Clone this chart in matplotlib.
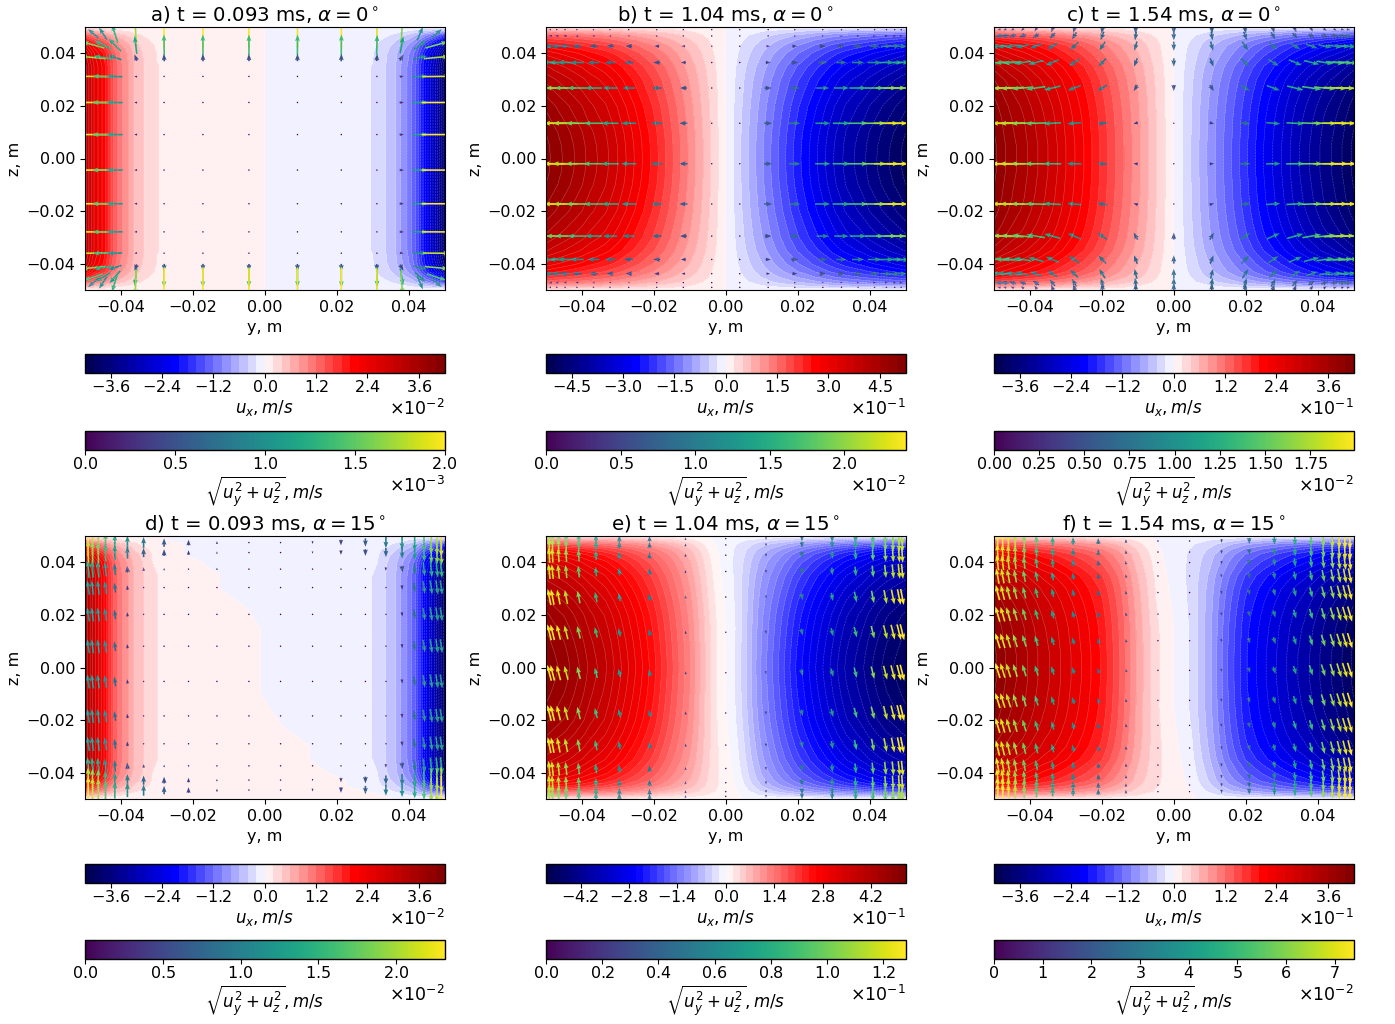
import numpy as np
import matplotlib
matplotlib.use('Agg')
import matplotlib.pyplot as plt
from matplotlib.ticker import ScalarFormatter

# ux read at stations across the duct (wall values at the end), units of 10^exp
y_st = [0, .0025, .005, .01, .015, .02, .025, .03, .0336, .0364, .0378, .04, .042, .0447, .0475, .05]
z_st = [0, .005, .01, .015, .02, .025, .03, .035, .04, .043, .045, .047, .0485, .0495, .05]

ux_left_a = [0, .015, .03, .06, .09, .12, .16, .205, .4, .6, .8, 1.05, 1.4, 2.1, 2.6, 3.3]
ux_right_a = [0, .015, .03, .06, .09, .12, .16, .205, .4, .6, .8, 1.05, 1.4, 2.2, 3.0, 3.95]
ux_b = [0, .3, .6, 1.2, 1.8, 2.4, 2.95, 3.5, 3.85, 4.05, 4.15, 4.35, 4.5, 4.7, 4.9, 5.1]
ux_c = [0, .21, .42, .87, 1.3, 1.75, 2.2, 2.6, 2.9, 3.1, 3.2, 3.35, 3.5, 3.65, 3.85, 4.05]
ux_left_d = [0, .015, .03, .06, .09, .12, .16, .205, .4, .6, .8, 1.05, 1.4, 2.2, 2.9, 3.6]
ux_right_d = [0, .015, .03, .06, .09, .12, .16, .205, .4, .6, .8, 1.05, 1.4, 2.3, 3.1, 3.9]
ux_e = [0, .2, .5, 1.24, 1.85, 2.47, 3.0, 3.5, 3.85, 4.05, 4.15, 4.35, 4.5, 4.7, 4.85, 5.0]
ux_f = [0, .12, .25, .75, 1.4, 1.97, 2.35, 2.7, 2.95, 3.1, 3.2, 3.35, 3.5, 3.65, 3.85, 4.05]

wall_a = [1, 1, 1, 1, 1, 1, 1, 1, .93, .8, .62, .42, .2, .07, 0]
wall_b = [1, .995, .98, .95, .92, .87, .82, .74, .62, .52, .43, .32, .19, .08, 0]
wall_c = [1, 1, .99, .98, .96, .93, .89, .82, .7, .62, .52, .38, .22, .09, 0]
wall_e = [1, .99, .975, .955, .93, .89, .84, .78, .69, .61, .52, .38, .22, .09, 0]

# where the zero contour of panel d sits at each z station, upper and lower half
zero_top_d = [0, 0, -.0003, -.0012, -.0035, -.0075, -.011, -.0145, -.018, -.0205, -.0225, -.0245, -.0262, -.028, -.03]
zero_bot_d = [0, 0, 0, .001, .004, .007, .0103, .0145, .019, .0225, .025, .028, .031, .034, .036]
# e and f: small offset of the centre of the duct towards the top and bottom walls
tilt_ef = [0, 0, 0, 0, .02, .04, .06, .08, .1, .11, .12, .12, .1, .05, 0]
tilt_weight = [1, .9, .7, .3, 0, 0, 0, 0, 0, 0, 0, 0, 0, 0, 0, 0]

# arrows: positions and fractions of the colourbar maximum
cols_a = [-.0477, -.045, -.0417, -.0359, -.028, -.0172, -.0044, .0091, .0213, .0312, .0381, .0432, .0478]
rows_a = [.0475, .0432, .0384, .0312, .0213, .0091, -.0044, -.0172, -.0279, -.036, -.0415, -.0451, -.0472]
y_col_a = [1, .75, .55, .1, .015, .008, .005, .005, .008, .02, .14, .55, 1]
y_row_a = [.35, .75, .85, .95, 1, 1, 1, 1, .97, .9, .8, .65, .35]
z_col_a = [.3, .4, .6, .85, 1, 1, .98, .98, 1, .95, .8, .45, .3]
z_row_a = [1, .7, .25, .03, .01, .005, .005, .005, .01, .03, .25, .7, 1]

rows_b = [.049, .0466, .0427, .0365, .0268, .0134, -.002, -.0173, -.0295, -.0384, -.0438, -.0472, -.049]
cols_b = [.0039, .0118, .0192, .027, .0322, .0368, .0414, .0447, .047, .0488]
y_col_b = [.02, .3, .42, .55, .63, .72, .82, .9, .96, 1]
y_row_b = [.03, .12, .42, .6, .85, .97, 1, .97, .82, .6, .42, .12, .03]
z_col_b = [.012, .012, .01, .01, .01, .01, .01, .01, .01, .01]
z_row_b = [1, .8, .3, .2, .1, .1, .1, .1, .1, .2, .3, .8, 1]

cols_c = [0, .0106, .0199, .0277, .0338, .0384, .0421, .0449, .047, .0486]
y_col_c = [0, .16, .38, .52, .65, .76, .85, .92, .97, 1]
y_row_c = [.12, .3, .55, .72, .9, .97, 1, .97, .88, .72, .55, .3, .12]
z_col_c = [1, 1, .95, .8, .65, .45, .3, .2, .12, .1]
z_row_c = [.3, .32, .33, .3, .22, .05, .01, .05, .25, .3, .35, .35, .3]

cols_d = [.0044, .0133, .0212, .028, .0337, .0382, .0417, .0443, .0463, .0479, .0491]
rows_d = [.0475, .0437, .0374, .0304, .0202, .0081, -.0053, -.0184, -.029, -.0374, -.0428, -.0466]
z_mid_d = [.005, .008, .008, .012, .04, .15, .35, .45, .5, .5, .5]
z_wall_d = [.03, .1, .2, .3, .4, .5, .6, .7, .85, .9, 1]
wall_row_d = [1, .8, .25, .03, 0, 0, 0, 0, .03, .25, .8, 1]

cols_e = [0, .0112, .0212, .0296, .0361, .0409, .0444, .0465, .0482, .0491]
z_col_e = [.01, .2, .42, .52, .65, .78, .87, .93, .97, 1]
z_row_e = [.85, .9, .95, .95, 1, 1, 1, 1, 1, .95, .95, .9, .85]
y_row_e = [0, .02, .06, .1, .2, .25, .26, .25, .2, .1, .06, .02, 0]

cols_f = [.0044, .0133, .021, .028, .0337, .0382, .0416, .0441, .046, .0476, .049]
rows_f = [.0481, .0439, .0399, .0348, .0285, .0203, .0102, -.0011, -.0125, -.022, -.0306, -.0371, -.0415, -.0447, -.0472]
z_col_f = [.02, .22, .36, .47, .57, .68, .78, .85, .91, .96, 1]
z_row_f = [1.05, 1, .98, .96, .95, .95, .95, .95, .95, .95, .96, .96, .98, 1, 1.05]
y_row_f = [.02, .06, .12, .18, .24, .28, .3, .3, .3, .28, .24, .18, .12, .06, .02]

titles = ['a) t = 0.093 ms, $\\alpha = 0^\\circ$', 'b) t = 1.04 ms, $\\alpha = 0^\\circ$',
          'c) t = 1.54 ms, $\\alpha = 0^\\circ$', 'd) t = 0.093 ms, $\\alpha = 15^\\circ$',
          'e) t = 1.04 ms, $\\alpha = 15^\\circ$', 'f) t = 1.54 ms, $\\alpha = 15^\\circ$']
ux_max = [4.2, 5.25, 4.2, 4.2, 5.2, 4.2]
ux_bands = [42, 42, 42, 42, 52, 42]
ux_exp = [-2, -1, -1, -2, -1, -1]
ux_tick = [1.2, 1.5, 1.2, 1.2, 1.4, 1.2]
sp_max = [2.0, 2.41, 1.99, 2.31, 1.28, 7.39]
sp_exp = [-3, -2, -2, -2, -1, -2]
sp_tick = [.5, .5, .25, .5, .2, 1]
arrow_px = [30, 28, 28, 28, 16, 16]

W, H = 1395, 1024
lefts = [85, 546, 994]
tops = [27, 536]
FS = 11.5

plt.rcParams['font.size'] = FS
plt.rcParams['mathtext.fontset'] = 'dejavusans'


def box(x, y, w, h):
    return [x / W, 1 - (y + h) / H, w / W, h / H]


def ux_field(left, right, wall, scale, top0=None, bot0=None, tilt=0):
    ys = np.array(y_st)
    zs = np.array(z_st)
    y_full = np.r_[-ys[:0:-1], ys]
    z_full = np.r_[-zs[:0:-1], zs]
    prof = np.r_[np.array(left)[:0:-1], -np.array(right)]
    f = np.array(wall)
    f_full = np.r_[f[:0:-1], f]
    ux = np.outer(f_full, prof) * 1.0
    if top0 is not None:
        y0 = np.r_[np.array(bot0)[:0:-1], top0]
        Y, Z = np.meshgrid(y_full, z_full)
        centre = np.abs(ux) < scale
        ux[centre] = (0.5 * scale * -np.sign(Y - y0[:, None] + 1e-5))[centre]
    if tilt:
        t = np.array(tilt_ef)
        w = np.array(tilt_weight)
        ux = ux + tilt * np.outer(np.r_[t[:0:-1], -t], np.r_[w[:0:-1], w])
    return y_full, z_full, ux


# half lists run from the centre to the wall; has_zero when the centre column sits on y = 0
def mirror(half, has_zero=False):
    h = np.array(half)
    return np.r_[h[:0:-1], h] if has_zero else np.r_[h[::-1], h]


def signed(half, has_zero=False):
    h = np.array(half)
    return np.r_[-h[:0:-1], h] if has_zero else np.r_[-h[::-1], h]


def arrows(cols, rows, y_col, y_row, z_col, z_row, mode):
    Y, Z = np.meshgrid(cols, rows)
    uy = np.sign(Y) * np.outer(y_row, y_col)
    base = np.outer(z_row, z_col)
    if mode == 'out':
        uz = np.sign(Z) * base
    elif mode == 'in':
        uz = -np.sign(Z) * base
    else:
        uz = -np.sign(Y) * base
    return Y, Z, uy, uz


fields = [
    ux_field(ux_left_a, ux_right_a, wall_a, .2),
    ux_field(ux_b, ux_b, wall_b, .25),
    ux_field(ux_c, ux_c, wall_c, .2),
    ux_field(ux_left_d, ux_right_d, wall_a, .2, zero_top_d, zero_bot_d),
    ux_field(ux_e, ux_e, wall_e, .2, tilt=1),
    ux_field(ux_f, ux_f, wall_c, .2, tilt=1),
]

wr = np.array(wall_row_d)
uz_d = np.outer(wr, mirror(z_wall_d)) + np.outer(1 - wr, mirror(z_mid_d))
Yd, Zd = np.meshgrid(signed(cols_d), rows_d)
vectors = [
    arrows(cols_a, rows_a, y_col_a, y_row_a, z_col_a, z_row_a, 'out'),
    arrows(signed(cols_b), rows_b, mirror(y_col_b), y_row_b, mirror(z_col_b), z_row_b, 'out'),
    arrows(signed(cols_c, True), rows_b, mirror(y_col_c, True), y_row_c, mirror(z_col_c, True), z_row_c, 'in'),
    (Yd, Zd, np.sign(Yd) * 0.15 * np.outer(1 - wr, mirror(z_mid_d)), -np.sign(Yd) * uz_d),
    arrows(signed(cols_e, True), rows_b, mirror(z_col_e, True), y_row_e, mirror(z_col_e, True), z_row_e, 'across'),
    arrows(signed(cols_f), rows_f, mirror(z_col_f), y_row_f, mirror(z_col_f), z_row_f, 'across'),
]

fig = plt.figure(figsize=(W / 100, H / 100), dpi=100)

for i in range(6):
    x0 = lefts[i % 3]
    y0 = tops[i // 3]
    ax = fig.add_axes(box(x0, y0, 359.5, 263))
    ys, zs, ux = fields[i]
    k = 10.0 ** ux_exp[i]
    levels = np.linspace(-ux_max[i], ux_max[i], ux_bands[i] + 1) * k
    cf = ax.contourf(ys, zs, np.clip(ux * k, levels[0], levels[-1]), levels=levels, cmap='seismic')
    ax.contour(ys, zs, ux * k, levels=levels, colors='white', linewidths=.4, alpha=.3)

    Y, Z, uy, uz = vectors[i]
    s = 10.0 ** sp_exp[i] * sp_max[i]
    q = ax.quiver(Y, Z, uy * s, uz * s, np.hypot(uy, uz) * s, cmap='viridis', pivot='mid',
                  scale=s * 359.5 / arrow_px[i], scale_units='width', units='width',
                  width=.0045, headwidth=3, headlength=4, headaxislength=3.5)
    q.set_clim(0, s)

    ax.set_xlim(-.05, .05)
    ax.set_ylim(-.05, .05)
    ax.set_xticks([-.04, -.02, 0, .02, .04])
    ax.set_yticks([-.04, -.02, 0, .02, .04])
    ax.set_xlabel('y, m', labelpad=4)
    ax.set_ylabel('z, m', labelpad=3)
    ax.set_title(titles[i], fontsize=14.2, pad=5)

    dy = 510 if i > 2 else 0
    cax1 = fig.add_axes(box(x0, 354 + dy, 359.5, 18.5))
    cb1 = fig.colorbar(cf, cax=cax1, orientation='horizontal')
    n = int(ux_max[i] / ux_tick[i] + 1e-6)
    cb1.set_ticks(np.arange(-n, n + 1) * ux_tick[i] * k)
    cb1.set_label('$u_x, m/s$', labelpad=2, fontsize=12)

    cax2 = fig.add_axes(box(x0, 431 + dy - (1 if i > 2 else 0), 359.5, 18.5))
    cb2 = fig.colorbar(q, cax=cax2, orientation='horizontal')
    m = int(sp_max[i] / sp_tick[i] + 1e-6)
    cb2.set_ticks(np.arange(0, m + 1) * sp_tick[i] * 10.0 ** sp_exp[i])
    cb2.set_label('$\\sqrt{u_y^2 + u_z^2}, m/s$', labelpad=2, fontsize=12)

    for cb in (cb1, cb2):
        fmt = ScalarFormatter(useMathText=True)
        fmt.set_powerlimits((0, 0))
        cb.ax.xaxis.set_major_formatter(fmt)
        cb.ax.tick_params(pad=1)
        cb.ax.xaxis.get_offset_text().set_fontsize(12.5)
        cb.outline.set_linewidth(1.0)

fig.savefig('out.png', dpi=100)
